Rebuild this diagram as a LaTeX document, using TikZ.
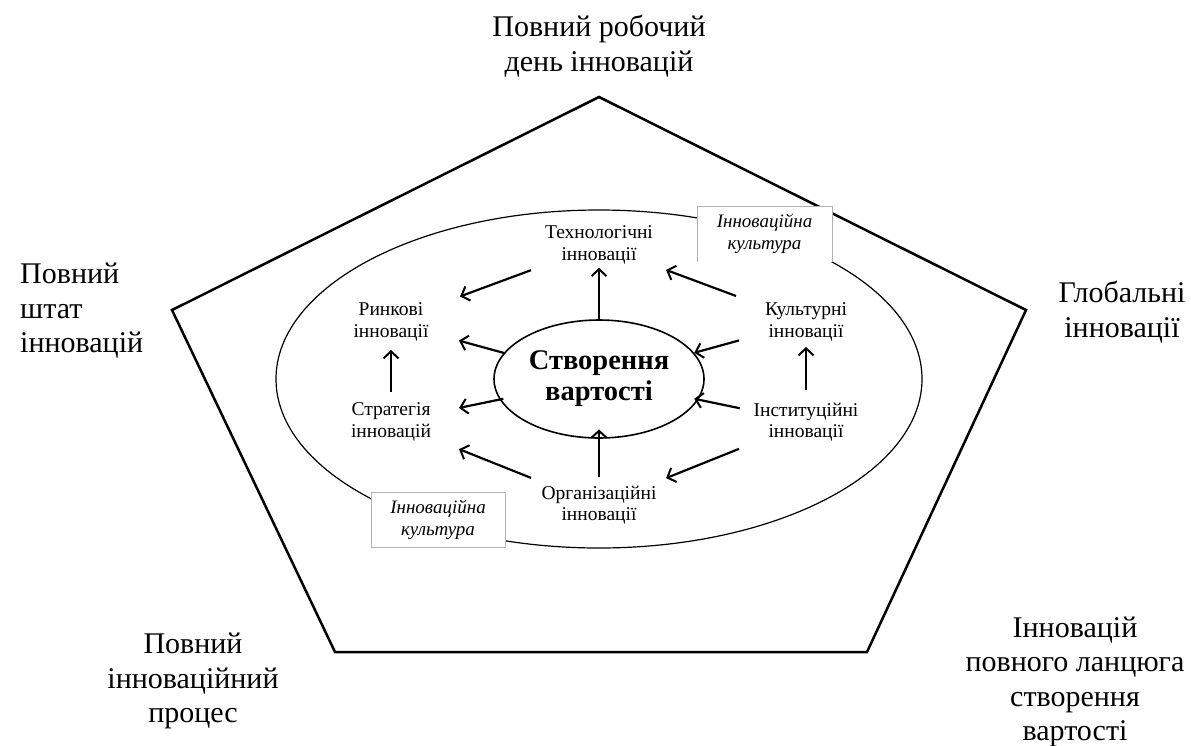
\documentclass[tikz,border=0pt]{standalone}
\usepackage{fontspec}
\setmainfont{Liberation Serif}
\usetikzlibrary{arrows.meta,calc,shapes.geometric}
\begin{document}
\begin{tikzpicture}[x=1pt,y=-1pt,
  corner/.style={font=\fontsize{30}{34.5}\selectfont, align=center, inner sep=0pt},
  lab/.style={font=\fontsize{19.5}{21.5}\selectfont, align=center, inner sep=1pt},
  arr/.style={line width=2.2pt, -{Straight Barb[length=7pt,width=15pt,line width=2pt]}},
  cult/.style={font=\fontsize{19}{22.5}\selectfont\itshape, align=center, fill=white, line width=0.7pt, minimum width=134pt, minimum height=55pt, inner sep=0pt}]
\useasboundingbox (0,0) rectangle (1191,745);
% pentagon
\coordinate (pT) at (599,97);
\coordinate (pL) at (172,310);
\coordinate (pR) at (1026,310);
\coordinate (pBL) at (335,652);
\coordinate (pBR) at (867,652);
\draw[line width=2.5pt, line join=miter] (pT) -- (pR) -- (pBR) -- (pBL) -- (pL) -- cycle;
% outer ellipse
\draw[line width=1.2pt] (599,379) ellipse [x radius=323, y radius=169];
% culture boxes
\node[cult] (cultTR) at (764.5,234) {Інноваційна\\культура};
\draw[black!30, line width=0.7pt] (cultTR.south west) -- (cultTR.north west) -- (cultTR.north east) -- (cultTR.south east);
\node[cult, draw=black!30] (cultBL) at (438,520) {Інноваційна\\культура};
% center
\node[ellipse, draw, line width=1.6pt, minimum width=210pt, minimum height=118pt, inner sep=0pt,
  font=\fontsize{28.5}{31}\selectfont\bfseries, align=center] (center) at (599,379) {Створення\\вартості};
% labels
\node[lab] (tech) at (599,245) {Технологічні\\інновації};
\node[lab] (market) at (391,322) {Ринкові\\інновації};
\node[lab] (strat) at (391,422) {Стратегія\\інновацій};
\node[lab] (org) at (599,505) {Організаційні\\інновації};
\node[lab] (cultinn) at (806,322) {Культурні\\інновації};
\node[lab] (inst) at (806,422) {Інституційні\\інновації};
% arrows
\draw[arr] ($(tech)!0.327!(market)$) -- ($(tech)!0.668!(market)$);
\draw[arr] ($(center)!0.44!(tech)$) -- ($(center)!0.83!(tech)$);
\draw[arr] ($(cultinn)!0.338!(tech)$) -- ($(cultinn)!0.676!(tech)$);
\draw[arr] ($(center)!0.45!(market)$) -- ($(center)!0.673!(market)$);
\draw[arr] ($(cultinn)!0.324!(center)$) -- ($(cultinn)!0.54!(center)$);
\draw[arr] ($(strat)!0.3!(market)$) -- ($(strat)!0.72!(market)$);
\draw[arr] ($(inst)!0.32!(cultinn)$) -- ($(inst)!0.75!(cultinn)$);
\draw[arr] ($(center)!0.46!(strat)$) -- ($(center)!0.673!(strat)$);
\draw[arr] ($(inst)!0.32!(center)$) -- ($(inst)!0.54!(center)$);
\draw[arr] ($(org)!0.22!(center)$) -- ($(org)!0.6!(center)$);
\draw[arr] ($(org)!0.327!(strat)$) -- ($(org)!0.673!(strat)$);
\draw[arr] ($(inst)!0.324!(org)$) -- ($(inst)!0.676!(org)$);
% corner labels
\node[corner] (ctop) at (599,46) {Повний робочий\\день інновацій};
\node[corner, align=left, anchor=west] (cleft) at (20,311) {Повний\\штат\\інновацій};
\node[corner] (cright) at (1122,312) {Глобальні\\інновації};
\node[corner] (cbl) at (193,681) {Повний\\інноваційний\\процес};
\node[corner] (cbr) at (1075,682) {Інновацій\\повного ланцюга\\створення\\вартості};
\end{tikzpicture}
\end{document}
